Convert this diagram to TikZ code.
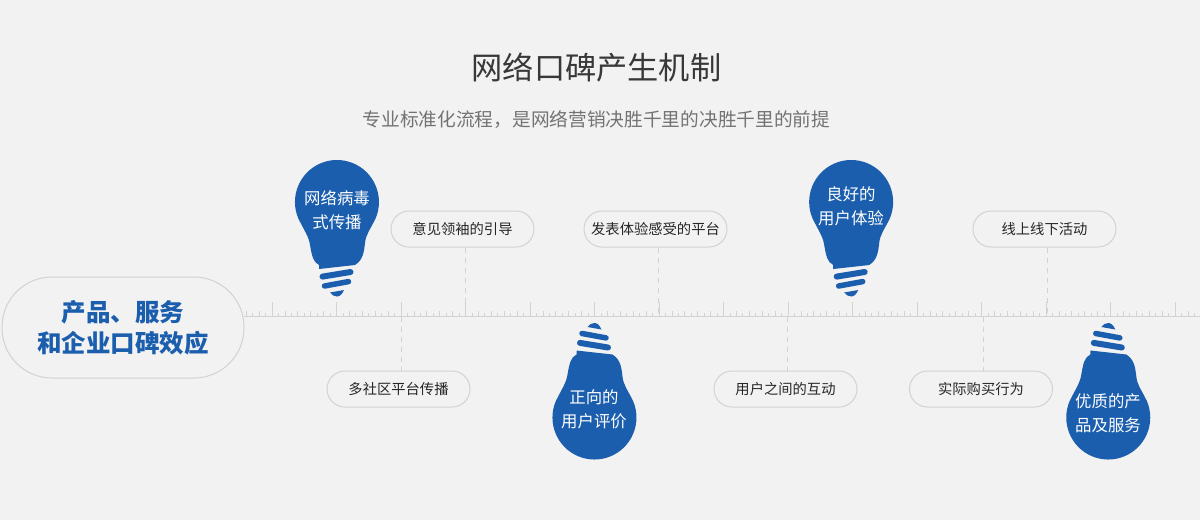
\documentclass[tikz,border=0pt]{standalone}
\usepackage{fontspec}
\setmainfont{Noto Sans CJK SC}
\definecolor{pagegray}{HTML}{F2F2F2}
\definecolor{bulbblue}{HTML}{1B5EAD}
\definecolor{rulegray}{HTML}{D2D2D2}
\tikzset{
  pill/.style={draw=rulegray, line width=1pt, fill=pagegray, rounded corners=18pt,
    minimum width=143pt, minimum height=36pt, inner sep=0pt, text=black!85,
    text height=12.5pt, text depth=1.5pt, font=\fontsize{14.3}{16}\selectfont},
  bulbtext/.style={align=center, text=white, inner sep=0pt,
    font=\fontsize{16.4}{24}\selectfont},
  guide/.style={draw=rulegray, line width=1pt, dash pattern=on 5pt off 5pt},
  bulb/.pic={
    \fill [bulbblue] (-38.7,16.4) arc [start angle=157, end angle=383, radius=42]
      .. controls (33,28) and (29,32) .. (28,41)
      .. controls (27,50) and (26,58) .. (18,63) -- (-18,67) -- (-18,63)
      .. controls (-24,60) and (-25,54) .. (-27,43)
      .. controls (-28,35) and (-33,28) .. (-38.7,16.4) -- cycle;
    \draw [bulbblue, line width=6pt, line cap=round] (-14.5,74.6) -- (13.5,70);
    \draw [bulbblue, line width=5.5pt, line cap=round] (-12.5,84) -- (11.5,79.6);
    \fill [bulbblue] (-7,90.5) -- (7,88) .. controls (5,93) and (2,94.5) .. (0,94.5)
      .. controls (-3,94.5) and (-5,93) .. (-7,90.5) -- cycle;
  }
}
\begin{document}
\begin{tikzpicture}[x=1pt, y=-1pt]
  \useasboundingbox [fill=pagegray] (0,0) rectangle (1200,520);

  \node (title) [text=black!78, font=\fontsize{31.2}{36}\selectfont] at (596.5,68)
    {网络口碑产生机制};
  \node (subtitle) [text=black!55, font=\fontsize{18.7}{22}\selectfont] at (596.5,120)
    {专业标准化流程^^^^ff0c是网络营销决胜千里的决胜千里的前提};

  \draw [rulegray, line width=1pt] (244,316.5) -- (1200,316.5);
  \foreach \k in {-4,...,143} {
    \pgfmathsetmacro\tickx{272+6.45*\k}
    \pgfmathsetmacro\tickh{mod(\k,10)==0 ? 15 : (mod(\k,2)==0 ? 5.5 : 3.5)}
    \draw [rulegray, line width=.8pt] (\tickx,316.5) -- ++(0,-\tickh);
  }

  \node (source) [draw=rulegray, line width=1pt, fill=pagegray, rounded corners=50pt,
    minimum width=242pt, minimum height=101pt, align=center, text=bulbblue,
    font=\fontsize{24.5}{31}\selectfont\bfseries] at (123,327.5)
    {产品、服务\\和企业口碑效应};

  \node (leader) [pill] at (462.5,229) {意见领袖的引导};
  \node (publish) [pill] at (655.5,229) {发表体验感受的平台};
  \node (offline) [pill] at (1044.5,229) {线上线下活动};
  \node (social) [pill] at (398.5,389) {多社区平台传播};
  \node (interact) [pill] at (785.5,389) {用户之间的互动};
  \node (purchase) [pill] at (981,389) {实际购买行为};

  \coordinate (markLeader) at (465,316.5);
  \coordinate (markPublish) at (658,316.5);
  \coordinate (markOffline) at (1047,316.5);
  \coordinate (markSocial) at (401,316.5);
  \coordinate (markInteract) at (787.5,316.5);
  \coordinate (markPurchase) at (983,316.5);

  \draw [guide] (markLeader |- leader.south) -- (markLeader);
  \draw [guide] (markPublish |- publish.south) -- (markPublish);
  \draw [guide] (markOffline |- offline.south) -- (markOffline);
  \draw [guide] (markSocial) -- (markSocial |- social.north);
  \draw [guide] (markInteract) -- (markInteract |- interact.north);
  \draw [guide] (markPurchase) -- (markPurchase |- purchase.north);

  \pic at (337,202) {bulb};
  \pic at (851.2,202) {bulb};
  \pic [yscale=-1] at (594.5,417.5) {bulb};
  \pic [yscale=-1] at (1108.3,417.5) {bulb};

  \node (viral) [bulbtext] at (337,210) {网络病毒\\式传播};
  \node (good) [bulbtext] at (851,206) {良好的\\用户体验};
  \node (review) [bulbtext] at (594,409) {正向的\\用户评价};
  \node (quality) [bulbtext] at (1108,413) {优质的产\\品及服务};
\end{tikzpicture}
\end{document}
